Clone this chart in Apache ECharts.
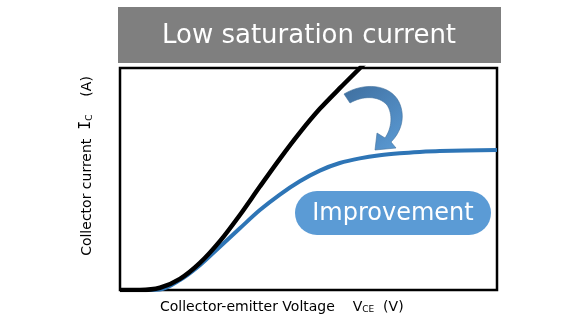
<!DOCTYPE html>
<html>
<head>
<meta charset="utf-8">
<script src="https://cdn.jsdelivr.net/npm/echarts@6/dist/echarts.min.js"></script>
<style>
  html, body { margin: 0; padding: 0; background: #fff; }
  #chart { width: 580px; height: 326px; }
</style>
</head>
<body>
<div id="chart"></div>
<script>
// Output characteristics, arbitrary units (voltage 0..10, current 0..10)
const standardVce = [0, 0.53, 1.06, 1.59, 2.12, 2.65, 3.18, 3.71, 4.24, 4.77, 5.30, 5.83, 6.36, 6.89];
const standardIc  = [0, 0, 0.10, 0.50, 1.22, 2.20, 3.38, 4.66, 5.91, 7.09, 8.16, 9.09, 9.99, 10.89];

const improvedVce = [0, 0.53, 1.06, 1.59, 2.12, 2.65, 3.18, 3.71, 4.24, 4.77, 5.30, 5.83, 6.36, 6.89, 7.42, 7.95, 8.48, 10.0];
const improvedIc  = [0, 0, 0.02, 0.45, 1.12, 1.95, 2.78, 3.60, 4.30, 4.90, 5.38, 5.72, 5.93, 6.07, 6.16, 6.22, 6.26, 6.31];

const titleText = 'Low saturation current';
const badgeText = 'Improvement';

const pairs = (xs, ys) => xs.map((x, i) => [x, ys[i]]);
const FONT = '"DejaVu Sans", Verdana, sans-serif';

// sample a cubic bezier into points
function cubic(p0, p1, p2, p3, n) {
  const out = [];
  for (let k = 1; k <= n; k++) {
    const t = k / n, u = 1 - t;
    out.push([
      u * u * u * p0[0] + 3 * u * u * t * p1[0] + 3 * u * t * t * p2[0] + t * t * t * p3[0],
      u * u * u * p0[1] + 3 * u * u * t * p1[1] + 3 * u * t * t * p2[1] + t * t * t * p3[1]
    ]);
  }
  return out;
}

// curved arrow outline
const arrowPts = [[344, 94]]
  .concat(cubic([344, 94], [364, 82], [390, 84], [399, 102], 16))
  .concat(cubic([399, 102], [406, 117], [401, 132], [391, 142], 16))
  .concat([[396, 148], [375, 150], [377, 133], [385, 138]])
  .concat(cubic([385, 138], [392, 128], [393, 114], [387, 105], 16))
  .concat(cubic([387, 105], [378, 95], [362, 96], [350, 103], 16));

const chart = echarts.init(document.getElementById('chart'), null, { renderer: 'canvas' });

chart.setOption({
  animation: false,
  backgroundColor: '#ffffff',
  grid: {
    left: 120, right: 83, top: 68, bottom: 36,
    show: true, borderColor: '#000', borderWidth: 2.5, backgroundColor: 'transparent'
  },
  xAxis: {
    type: 'value', min: 0, max: 10,
    axisLine: { show: false }, axisTick: { show: false },
    axisLabel: { show: false }, splitLine: { show: false }
  },
  yAxis: {
    type: 'value', min: 0, max: 10,
    axisLine: { show: false }, axisTick: { show: false },
    axisLabel: { show: false }, splitLine: { show: false }
  },
  series: [
    {
      name: 'improved', type: 'line', smooth: 0.3, showSymbol: false, z: 2,
      lineStyle: { color: '#2e75b6', width: 4 },
      data: pairs(improvedVce, improvedIc)
    },
    {
      name: 'standard', type: 'line', smooth: 0.3, showSymbol: false, z: 3,
      lineStyle: { color: '#000000', width: 4.5 },
      data: pairs(standardVce, standardIc)
    }
  ],
  graphic: [
    // title banner
    {
      type: 'rect', shape: { x: 118, y: 7, width: 383, height: 56 },
      style: { fill: '#7f7f7f' }, z: 10
    },
    {
      type: 'text', x: 309, y: 36, z: 11,
      style: {
        text: titleText, fill: '#ffffff', font: '26px ' + FONT,
        align: 'center', verticalAlign: 'middle'
      }
    },
    // curved arrow
    {
      type: 'polygon', z: 10,
      shape: { points: arrowPts },
      style: {
        fill: {
          type: 'linear', x: 0, y: 0, x2: 1, y2: 1,
          colorStops: [
            { offset: 0, color: '#3f6f9f' },
            { offset: 1, color: '#5b9bd5' }
          ]
        },
        stroke: '#41719c', lineWidth: 0.6
      }
    },
    // badge
    {
      type: 'rect', z: 10,
      shape: { x: 295, y: 191, width: 196, height: 44, r: 22 },
      style: { fill: '#5b9bd5' }
    },
    {
      type: 'text', x: 393, y: 214, z: 11,
      style: {
        text: badgeText, fill: '#ffffff', font: '24px ' + FONT,
        align: 'center', verticalAlign: 'middle'
      }
    },
    // x axis title
    {
      type: 'text', x: 160, y: 305, z: 11,
      style: {
        text: '{n|Collector-emitter Voltage    V}{s|CE}{n|  (V)}',
        align: 'left', verticalAlign: 'middle',
        rich: {
          n: { font: '14px ' + FONT, fill: '#000', lineHeight: 18, verticalAlign: 'bottom' },
          s: { font: '9px ' + FONT, fill: '#000', lineHeight: 18, verticalAlign: 'bottom' }
        }
      }
    },
    // y axis title
    {
      type: 'text', x: 85, y: 166, rotation: Math.PI / 2, z: 11,
      style: {
        text: '{n|Collector current  }{i|I}{s|C}{n|    (A)}',
        align: 'center', verticalAlign: 'middle',
        rich: {
          n: { font: '14px ' + FONT, fill: '#000', lineHeight: 18, verticalAlign: 'bottom' },
          i: { font: '15px "DejaVu Sans Mono", monospace', fill: '#000', lineHeight: 18, verticalAlign: 'bottom' },
          s: { font: '9px ' + FONT, fill: '#000', lineHeight: 18, verticalAlign: 'bottom' }
        }
      }
    }
  ]
});
</script>
</body>
</html>
